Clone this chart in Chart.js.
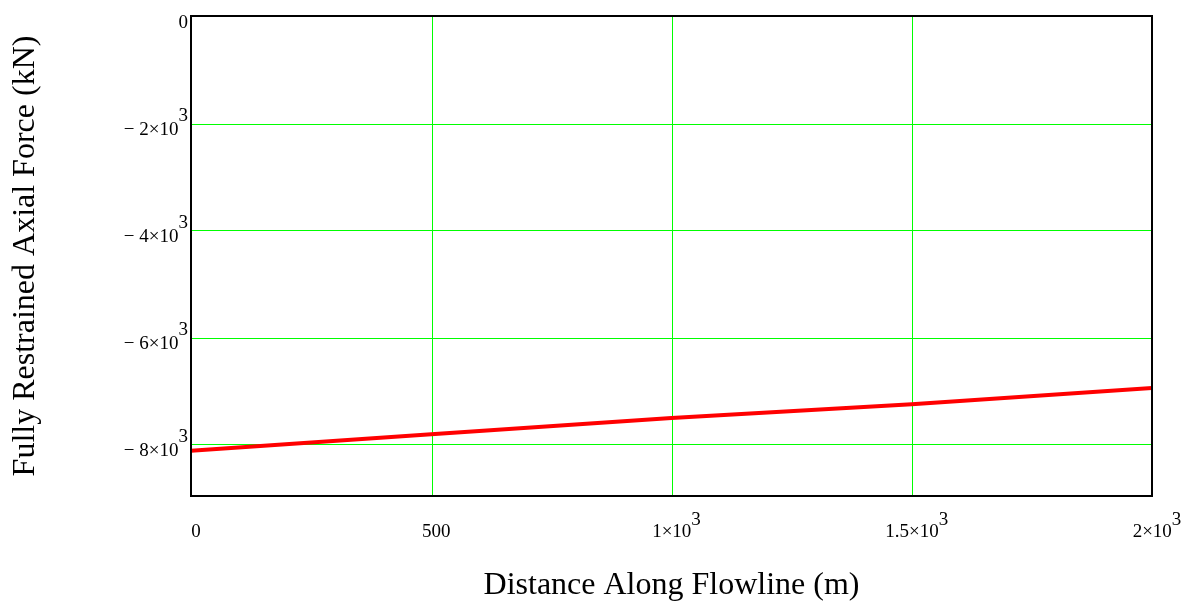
<!DOCTYPE html>
<html lang="en">
  <head>
    <meta charset="UTF-8" />
    <title>Fully Restrained Axial Force</title>
    <script src="https://cdn.jsdelivr.net/npm/chart.js"></script>
    <style>
      html, body { margin: 0; padding: 0; background: #fff; }
      #wrap { width: 1186px; height: 602px; }
    </style>
  </head>
  <body>
    <div id="wrap"><canvas id="myChart"></canvas></div>
    <script>
      // distance along flowline (m) and axial force (kN)
      const distance = [0, 500, 1000, 1500, 2000];
      const axialForce = [-8120, -7810, -7510, -7250, -6950];

      // tick positions and their printed labels (mantissa, exponent)
      const xTicks = [0, 500, 1000, 1500, 2000];
      const xTickLabels = [["0", ""], ["500", ""], ["1\u00d710", "3"], ["1.5\u00d710", "3"], ["2\u00d710", "3"]];
      const yTicks = [0, -2000, -4000, -6000, -8000];
      const yTickLabels = [["0", ""], ["\u2212 2\u00d710", "3"], ["\u2212 4\u00d710", "3"], ["\u2212 6\u00d710", "3"], ["\u2212 8\u00d710", "3"]];

      const FONT = '"Liberation Serif", "Times New Roman", serif';

      // crisp 1px green grid; snapped to even pixels so the colour survives the screenshot
      const snap = (p) => Math.round(p / 2) * 2;
      const gridPlugin = {
        id: "greenGrid",
        beforeDatasetsDraw(chart) {
          const { left, top, right, bottom } = chart.chartArea;
          const c = chart.ctx;
          c.save();
          c.fillStyle = "#00ff00";
          chart.scales.x.ticks.forEach(t => {
            const px = snap(chart.scales.x.getPixelForValue(t.value));
            if (px > left + 3 && px < right - 3) c.fillRect(px, top, 1, bottom - top);
          });
          chart.scales.y.ticks.forEach(t => {
            const py = snap(chart.scales.y.getPixelForValue(t.value));
            if (py > top + 3 && py < bottom - 3) c.fillRect(left, py, right - left, 1);
          });
          c.restore();
        }
      };

      // draw tick labels with a raised exponent, mathcad style
      const tickLabelPlugin = {
        id: "tickLabels",
        afterDraw(chart) {
          const c = chart.ctx;
          const xs = chart.scales.x, ys = chart.scales.y;
          c.save();
          c.fillStyle = "#000";
          c.font = "19px " + FONT;
          c.textBaseline = "alphabetic";

          xTicks.forEach((v, i) => {
            const [m, e] = xTickLabels[i];
            const wm = c.measureText(m).width;
            const we = e ? c.measureText(e).width : 0;
            const cx = xs.getPixelForValue(v) + 5;
            const left = cx - (wm + we) / 2;
            c.textAlign = "left";
            c.fillText(m, left, 537);
            if (e) c.fillText(e, left + wm, 525);
          });

          yTicks.forEach((v, i) => {
            const [m, e] = yTickLabels[i];
            const py = ys.getPixelForValue(v);
            const we = e ? c.measureText(e).width : 0;
            const right = 188;
            c.textAlign = "right";
            c.fillText(m, right - we, py + 12);
            if (e) c.fillText(e, right, py - 2);
          });

          // axis titles
          c.textAlign = "center";
          c.font = "32px " + FONT;
          const ca = chart.chartArea;
          c.fillText("Distance Along Flowline (m)", (ca.left + ca.right) / 2, 594);
          c.translate(34, (ca.top + ca.bottom) / 2);
          c.rotate(-Math.PI / 2);
          c.fillText("Fully Restrained Axial Force (kN)", 0, 0);
          c.restore();
        }
      };

      // black frame round the plot area
      const framePlugin = {
        id: "frame",
        afterDatasetsDraw(chart) {
          const { left, top, right, bottom } = chart.chartArea;
          const c = chart.ctx;
          c.save();
          c.strokeStyle = "#000";
          c.lineWidth = 2;
          c.strokeRect(left, top, right - left, bottom - top);
          c.restore();
        }
      };

      const ctx = document.getElementById("myChart").getContext("2d");
      const myChart = new Chart(ctx, {
        type: "line",
        data: {
          datasets: [{
            label: "Axial force",
            data: distance.map((d, i) => ({ x: d, y: axialForce[i] })),
            borderColor: "#ff0000",
            borderWidth: 4,
            pointRadius: 0,
            tension: 0,
            fill: false
          }]
        },
        options: {
          responsive: true,
          maintainAspectRatio: false,
          animation: false,
          layout: { padding: { left: 0, right: 34, top: 16, bottom: 0 } },
          plugins: {
            legend: { display: false },
            tooltip: { enabled: false }
          },
          scales: {
            x: {
              type: "linear",
              min: 0,
              max: 2000,
              afterBuildTicks: (s) => { s.ticks = xTicks.map(v => ({ value: v })); },
              afterFit: (s) => { s.height = 106; },
              ticks: { display: false },
              border: { display: false },
              grid: { display: false }
            },
            y: {
              type: "linear",
              min: -8965,
              max: 0,
              afterBuildTicks: (s) => { s.ticks = yTicks.map(v => ({ value: v })); },
              afterFit: (s) => { s.width = 191; },
              ticks: { display: false },
              border: { display: false },
              grid: { display: false }
            }
          }
        },
        plugins: [gridPlugin, tickLabelPlugin, framePlugin]
      });
    </script>
  </body>
</html>
